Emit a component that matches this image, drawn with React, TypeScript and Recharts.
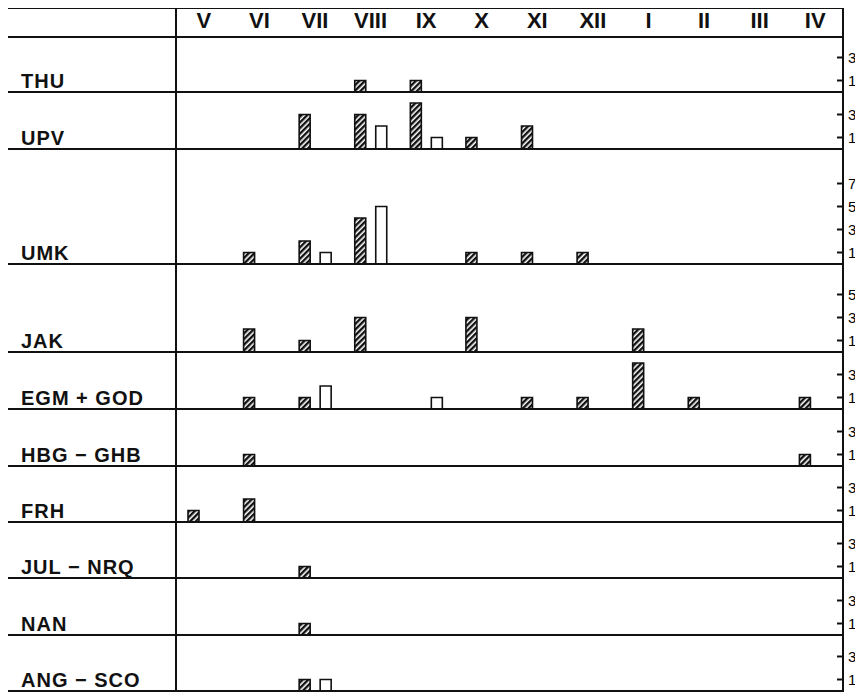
import React from 'react';
import { BarChart, Bar, XAxis, YAxis } from 'recharts';

const months = ['V', 'VI', 'VII', 'VIII', 'IX', 'X', 'XI', 'XII', 'I', 'II', 'III', 'IV'];

// counts per month, hatched = first series, open = second series
const thuHatched = [0, 0, 0, 1, 1, 0, 0, 0, 0, 0, 0, 0];
const thuOpen = [0, 0, 0, 0, 0, 0, 0, 0, 0, 0, 0, 0];
const upvHatched = [0, 0, 3, 3, 4, 1, 2, 0, 0, 0, 0, 0];
const upvOpen = [0, 0, 0, 2, 1, 0, 0, 0, 0, 0, 0, 0];
const umkHatched = [0, 1, 2, 4, 0, 1, 1, 1, 0, 0, 0, 0];
const umkOpen = [0, 0, 1, 5, 0, 0, 0, 0, 0, 0, 0, 0];
const jakHatched = [0, 2, 1, 3, 0, 3, 0, 0, 2, 0, 0, 0];
const jakOpen = [0, 0, 0, 0, 0, 0, 0, 0, 0, 0, 0, 0];
const egmHatched = [0, 1, 1, 0, 0, 0, 1, 1, 4, 1, 0, 1];
const egmOpen = [0, 0, 2, 0, 1, 0, 0, 0, 0, 0, 0, 0];
const hbgHatched = [0, 1, 0, 0, 0, 0, 0, 0, 0, 0, 0, 1];
const hbgOpen = [0, 0, 0, 0, 0, 0, 0, 0, 0, 0, 0, 0];
const frhHatched = [1, 2, 0, 0, 0, 0, 0, 0, 0, 0, 0, 0];
const frhOpen = [0, 0, 0, 0, 0, 0, 0, 0, 0, 0, 0, 0];
const julHatched = [0, 0, 1, 0, 0, 0, 0, 0, 0, 0, 0, 0];
const julOpen = [0, 0, 0, 0, 0, 0, 0, 0, 0, 0, 0, 0];
const nanHatched = [0, 0, 1, 0, 0, 0, 0, 0, 0, 0, 0, 0];
const nanOpen = [0, 0, 0, 0, 0, 0, 0, 0, 0, 0, 0, 0];
const angHatched = [0, 0, 1, 0, 0, 0, 0, 0, 0, 0, 0, 0];
const angOpen = [0, 0, 1, 0, 0, 0, 0, 0, 0, 0, 0, 0];

const smallTicks = [1, 3];
const jakTicks = [1, 3, 5];
const umkTicks = [1, 3, 5, 7];

const rows = [
  { id: 'thu', label: 'THU', hatched: thuHatched, open: thuOpen, ticks: smallTicks },
  { id: 'upv', label: 'UPV', hatched: upvHatched, open: upvOpen, ticks: smallTicks },
  { id: 'umk', label: 'UMK', hatched: umkHatched, open: umkOpen, ticks: umkTicks },
  { id: 'jak', label: 'JAK', hatched: jakHatched, open: jakOpen, ticks: jakTicks },
  { id: 'egm', label: 'EGM + GOD', hatched: egmHatched, open: egmOpen, ticks: smallTicks },
  { id: 'hbg', label: 'HBG − GHB', hatched: hbgHatched, open: hbgOpen, ticks: smallTicks },
  { id: 'frh', label: 'FRH', hatched: frhHatched, open: frhOpen, ticks: smallTicks },
  { id: 'jul', label: 'JUL − NRQ', hatched: julHatched, open: julOpen, ticks: smallTicks },
  { id: 'nan', label: 'NAN', hatched: nanHatched, open: nanOpen, ticks: smallTicks },
  { id: 'ang', label: 'ANG − SCO', hatched: angHatched, open: angOpen, ticks: smallTicks },
];

// layout (page pixels)
const FRAME_LEFT = 7;
const FRAME_TOP = 8;
const DIVIDER_X = 176;
const FRAME_RIGHT = 843;
const HEADER_H = 29;
const rowEdges = [37, 92, 149, 264, 352, 409, 466, 522, 578, 635, 691];
const PX_PER_UNIT = 11.5;
const PLOT_W = FRAME_RIGHT - DIVIDER_X;
const AXIS_W = 22;
const INK = '#111';
const FONT = '"Liberation Sans", Arial, sans-serif';

function MonthTick(props: any) {
  return (
    <text
      x={props.x}
      y={20}
      textAnchor="middle"
      fontFamily={FONT}
      fontWeight="bold"
      fontSize={22}
      fill={INK}
    >
      {props.payload.value}
    </text>
  );
}

function CountTick(props: any) {
  const y = props.y;
  return (
    <g>
      <line x1={PLOT_W - 6} x2={PLOT_W} y1={y} y2={y} stroke={INK} strokeWidth={2} />
      <text x={PLOT_W + 5} y={y + 5.5} fontFamily={FONT} fontSize={15} fill="#000">
        {props.payload.value}
      </text>
    </g>
  );
}

function StationRow({ row, top, height, header }: any) {
  const data = months.map((month, i) => ({ month, hatched: row.hatched[i], open: row.open[i] }));
  const headH = header ? HEADER_H : 0;
  return (
    <div style={{ position: 'absolute', left: DIVIDER_X, top: top - headH }}>
      <BarChart
        width={PLOT_W + AXIS_W}
        height={height + headH}
        data={data}
        margin={{ top: 0, right: 0, bottom: 0, left: 0 }}
        barSize={11}
        barGap={10}
      >
        <defs>
          <pattern
            id={`hatch-${row.id}`}
            patternUnits="userSpaceOnUse"
            width={4}
            height={4}
            patternTransform="rotate(45)"
          >
            <rect width={4} height={4} fill="#fff" />
            <rect width={2.4} height={4} fill={INK} />
          </pattern>
        </defs>
        <XAxis
          dataKey="month"
          orientation="top"
          hide={!header}
          height={HEADER_H}
          axisLine={false}
          tickLine={false}
          interval={0}
          tick={MonthTick}
        />
        <YAxis
          orientation="right"
          width={AXIS_W}
          type="number"
          domain={[0, height / PX_PER_UNIT]}
          allowDataOverflow
          ticks={row.ticks}
          interval={0}
          axisLine={false}
          tickLine={false}
          tick={CountTick}
        />
        <Bar
          dataKey="hatched"
          fill={`url(#hatch-${row.id})`}
          stroke={INK}
          strokeWidth={1.6}
          isAnimationActive={false}
        />
        <Bar dataKey="open" fill="#fff" stroke={INK} strokeWidth={1.6} isAnimationActive={false} />
      </BarChart>
    </div>
  );
}

function HLine({ y }: { y: number }) {
  return (
    <div
      style={{
        position: 'absolute',
        left: FRAME_LEFT - 1,
        top: y - 1,
        width: FRAME_RIGHT - FRAME_LEFT + 2,
        height: 2,
        background: INK,
      }}
    />
  );
}

function VLine({ x }: { x: number }) {
  return (
    <div
      style={{
        position: 'absolute',
        left: x - 1,
        top: FRAME_TOP - 1,
        width: 2,
        height: rowEdges[rowEdges.length - 1] - FRAME_TOP + 2,
        background: INK,
      }}
    />
  );
}

export default function App() {
  return (
    <div
      style={{
        position: 'relative',
        width: 863,
        height: 698,
        marginLeft: -8,
        marginTop: -8,
        background: '#fff',
        overflow: 'hidden',
      }}
    >
      {rows.map((row, i) => (
        <StationRow
          key={row.id}
          row={row}
          top={rowEdges[i]}
          height={rowEdges[i + 1] - rowEdges[i]}
          header={i === 0}
        />
      ))}
      {rows.map((row, i) => (
        <div
          key={row.id + '-label'}
          style={{
            position: 'absolute',
            left: 21,
            top: rowEdges[i + 1] - 21,
            fontFamily: FONT,
            fontWeight: 'bold',
            fontSize: 20,
            lineHeight: '20px',
            letterSpacing: 1,
            color: INK,
            whiteSpace: 'pre',
          }}
        >
          {row.label}
        </div>
      ))}
      <HLine y={FRAME_TOP} />
      {rowEdges.map((y) => (
        <HLine key={y} y={y} />
      ))}
      <VLine x={FRAME_LEFT} />
      <VLine x={DIVIDER_X} />
      <VLine x={FRAME_RIGHT} />
    </div>
  );
}
